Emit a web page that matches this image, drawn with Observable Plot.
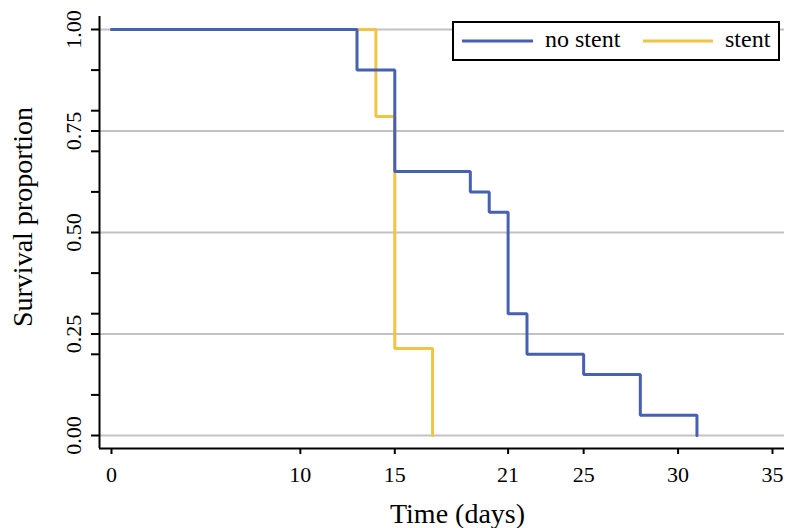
<!DOCTYPE html>
<html>
<head>
<meta charset="utf-8">
<script src="https://cdn.jsdelivr.net/npm/d3@7"></script>
<script src="https://cdn.jsdelivr.net/npm/@observablehq/plot@0.6"></script>
<style>
  html, body { margin: 0; padding: 0; background: #fff; }
  #wrap { position: relative; width: 785px; height: 528px; overflow: hidden; }
  #legend { position: absolute; left: 452px; top: 21px; }
</style>
</head>
<body>
<div id="wrap"></div>
<script>
// ---- data ----
const seriesNames = ["no stent", "stent"];
const noStentTime = [0, 13, 15, 19, 20, 21, 22, 25, 28, 31];
const noStentSurv = [1, 0.9, 0.65, 0.6, 0.55, 0.3, 0.2, 0.15, 0.05, 0];
const stentTime = [0, 14, 15, 17];
const stentSurv = [1, 0.786, 0.214, 0];
const xTicks = [0, 10, 15, 21, 25, 30, 35];
const yLabelTicks = [0, 0.25, 0.5, 0.75, 1];
const yMinorTicks = [0.1, 0.2, 0.3, 0.4, 0.6, 0.7, 0.8, 0.9];
const xTitle = ["Time (days)"];
const yTitle = ["Survival proportion"];

const colors = { "no stent": "#4561b0", "stent": "#f2c444" };
const FONT = '"Liberation Serif", "Times New Roman", "DejaVu Serif", serif';

const noStent = noStentTime.map((t, i) => ({ time: t, surv: noStentSurv[i], group: seriesNames[0] }));
const stent = stentTime.map((t, i) => ({ time: t, surv: stentSurv[i], group: seriesNames[1] }));

const xDomain = [-0.635, 35.635];
const yDomain = [-0.032, 1.032];

const chart = Plot.plot({
  width: 785,
  height: 528,
  marginLeft: 99,
  marginRight: 1,
  marginTop: 16,
  marginBottom: 80,
  style: { fontFamily: FONT, background: "#fff", color: "#000" },
  x: { domain: xDomain },
  y: { domain: yDomain },
  marks: [
    Plot.ruleY(yLabelTicks, { stroke: "#c2c2c2", strokeWidth: 2 }),
    Plot.line(stent, { x: "time", y: "surv", curve: "step-after", stroke: colors["stent"], strokeWidth: 3, strokeLinejoin: "miter" }),
    Plot.line(noStent, { x: "time", y: "surv", curve: "step-after", stroke: colors["no stent"], strokeWidth: 3, strokeLinejoin: "miter" }),
    Plot.ruleX([xDomain[0]], { stroke: "#000", strokeWidth: 2 }),
    Plot.ruleY([yDomain[0]], { stroke: "#000", strokeWidth: 2 }),
    Plot.axisX(xTicks, { tickSize: 6, tickPadding: 12, strokeWidth: 2, fontSize: 22, label: null, tickFormat: d => String(d) }),
    Plot.axisY(yMinorTicks.concat(yLabelTicks), { tickSize: 8, strokeWidth: 2, tickFormat: () => "", label: null }),
    Plot.text(yLabelTicks, { y: d => d, frameAnchor: "left", rotate: -90, dx: -26, text: d => d3.format(".2f")(d), fontSize: 22, lineAnchor: "middle", textAnchor: "middle" }),
    Plot.text(xTitle, { frameAnchor: "bottom", dx: 15.5, dy: 66, fontSize: 28, lineAnchor: "middle", textAnchor: "middle", text: d => d }),
    Plot.text(yTitle, { frameAnchor: "left", rotate: -90, dx: -76, dy: -15.5, fontSize: 28, lineAnchor: "middle", textAnchor: "middle", text: d => d })
  ]
});

const wrap = document.getElementById("wrap");
wrap.appendChild(chart);

// ---- legend (HTML overlay) ----
const lg = d3.select(wrap).append("svg")
  .attr("id", "legend")
  .attr("width", 330).attr("height", 42)
  .style("font-family", FONT);
lg.append("rect").attr("x", 1).attr("y", 1).attr("width", 326).attr("height", 38)
  .attr("fill", "#fff").attr("stroke", "#000").attr("stroke-width", 2);
const items = [
  { name: seriesNames[0], x0: 10, x1: 81, tx: 93 },
  { name: seriesNames[1], x0: 191, x1: 261, tx: 273 }
];
items.forEach(it => {
  lg.append("line").attr("x1", it.x0).attr("x2", it.x1).attr("y1", 20).attr("y2", 20)
    .attr("stroke", colors[it.name]).attr("stroke-width", 3);
  lg.append("text").attr("x", it.tx).attr("y", 26).attr("font-size", 24).attr("fill", "#000").text(it.name);
});
</script>
</body>
</html>
